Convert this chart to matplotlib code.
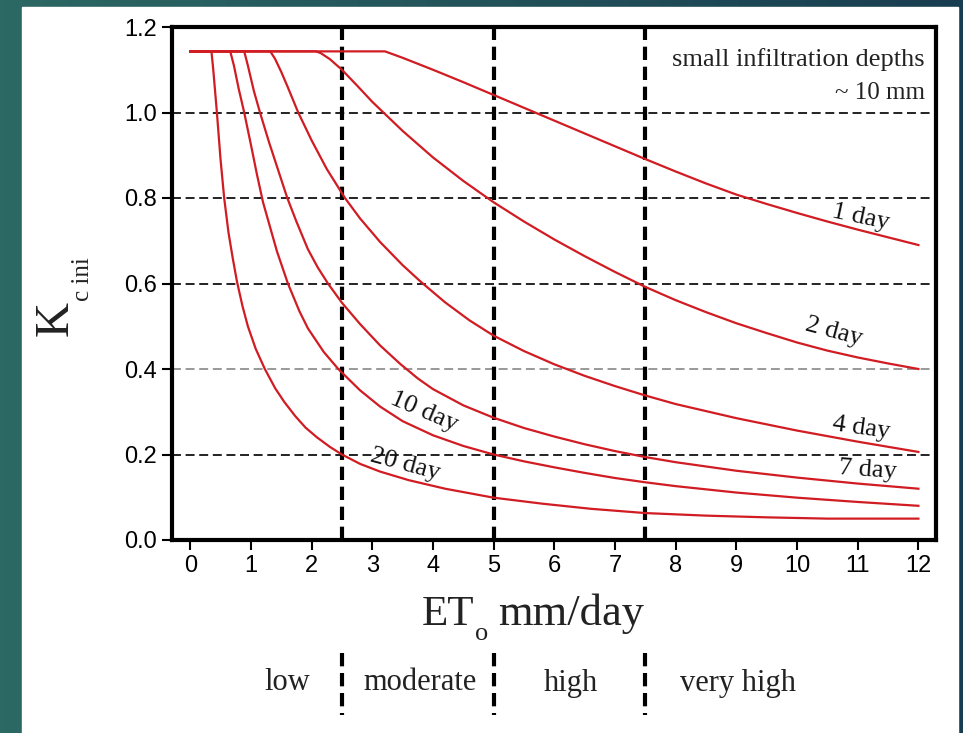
import matplotlib
matplotlib.use("Agg")
from matplotlib import pyplot as plt
from matplotlib import transforms
from matplotlib.patches import Rectangle
import numpy as np

W, H = 963, 733

# Kc ini curves (ETo mm/day -> Kc ini)
day1_x = [0, 3.21, 3.5, 4.0, 4.5, 5.0, 5.5, 6.0, 6.5, 7.0, 7.5, 8.0, 8.5, 9.0, 9.5, 10.0, 10.5, 11.0, 11.5, 12.0]
day1_y = [1.143, 1.143, 1.128, 1.100, 1.071, 1.041, 1.011, 0.981, 0.951, 0.921, 0.891, 0.862, 0.834, 0.808,
          0.786, 0.765, 0.745, 0.726, 0.708, 0.690]

day2_x = [0, 2.07, 2.15, 2.3, 2.5, 2.75, 3.0, 3.5, 4.0, 4.5, 5.0, 5.5, 6.0, 6.5, 7.0, 7.5, 8.0, 8.5, 9.0,
          9.5, 10.0, 10.5, 11.0, 11.5, 12.0]
day2_y = [1.143, 1.143, 1.139, 1.125, 1.100, 1.063, 1.025, 0.957, 0.895, 0.840, 0.790, 0.745, 0.703, 0.664,
          0.627, 0.592, 0.561, 0.533, 0.507, 0.484, 0.462, 0.443, 0.427, 0.413, 0.400]

day4_x = [0, 1.32, 1.4, 1.5, 1.6, 1.78, 2.0, 2.25, 2.55, 2.8, 3.13, 3.5, 3.8, 4.2, 4.6, 5.0, 5.5, 6.0, 6.5,
          7.0, 7.5, 8.0, 9.0, 10.0, 11.0, 12.0]
day4_y = [1.143, 1.143, 1.125, 1.095, 1.062, 1.000, 0.935, 0.868, 0.800, 0.752, 0.697, 0.643, 0.604, 0.556,
          0.514, 0.478, 0.442, 0.411, 0.384, 0.360, 0.338, 0.318, 0.285, 0.256, 0.230, 0.206]

day7_x = [0, 0.89, 0.95, 1.05, 1.15, 1.3, 1.45, 1.6, 1.75, 1.94, 2.1, 2.27, 2.5, 2.8, 3.13, 3.46, 3.75, 4.0,
          4.5, 5.0, 5.5, 6.0, 6.5, 7.0, 7.5, 8.0, 9.0, 10.0, 11.0, 12.0]
day7_y = [1.143, 1.143, 1.110, 1.050, 1.000, 0.930, 0.865, 0.800, 0.745, 0.680, 0.638, 0.600, 0.555, 0.505,
          0.455, 0.412, 0.378, 0.353, 0.315, 0.286, 0.262, 0.242, 0.224, 0.208, 0.194, 0.182, 0.162, 0.146,
          0.132, 0.120]

day10_x = [0, 0.66, 0.72, 0.8, 0.89, 1.0, 1.1, 1.2, 1.3, 1.43, 1.61, 1.8, 1.94, 2.2, 2.44, 2.8, 3.13, 3.5,
           4.0, 4.5, 5.0, 5.5, 6.0, 6.5, 7.0, 7.5, 8.0, 9.0, 10.0, 11.0, 12.0]
day10_y = [1.143, 1.143, 1.110, 1.055, 1.000, 0.925, 0.855, 0.790, 0.740, 0.675, 0.600, 0.535, 0.495, 0.440,
           0.400, 0.350, 0.312, 0.278, 0.245, 0.220, 0.200, 0.184, 0.170, 0.157, 0.145, 0.135, 0.126, 0.111,
           0.099, 0.089, 0.080]

day20_x = [0, 0.35, 0.38, 0.44, 0.50, 0.56, 0.63, 0.70, 0.77, 0.86, 0.95, 1.08, 1.23, 1.4, 1.55, 1.73, 1.9,
           2.09, 2.3, 2.5, 2.8, 3.13, 3.6, 4.2, 5.0, 5.8, 6.6, 7.5, 8.5, 9.5, 10.5, 12.0]
day20_y = [1.143, 1.143, 1.100, 1.000, 0.890, 0.800, 0.720, 0.660, 0.605, 0.548, 0.500, 0.447, 0.400, 0.355,
           0.323, 0.290, 0.263, 0.240, 0.218, 0.200, 0.178, 0.160, 0.140, 0.120, 0.099, 0.085, 0.073, 0.063,
           0.057, 0.053, 0.050, 0.050]

curve_labels = ["1 day", "2 day", "4 day", "7 day", "10 day", "20 day"]
label_x = [11.05, 10.6, 11.05, 11.17, 3.86, 3.54]
label_y = [0.755, 0.486, 0.261, 0.163, 0.30, 0.177]
label_rot = [-12, -15, -8, -4, -23, -15]

classes = ["low", "moderate", "high", "very high"]
class_x = [1.6, 3.79, 6.27, 9.02]
class_edges = [2.5, 5, 7.5]

x_ticks = list(range(0, 13))
y_ticks = [0.0, 0.2, 0.4, 0.6, 0.8, 1.0, 1.2]

red = "#d01c22"
serif = "Liberation Serif"


def px(x, y):
    return x / W, 1 - y / H


fig = plt.figure(figsize=(W / 100, H / 100), dpi=100)

# slide background + white card
bg = fig.add_axes([0, 0, 1, 1])
grad = np.linspace(0, 1, 256)[None, :, None]
c0 = np.array([44, 104, 100]) / 255
c1 = np.array([25, 61, 80]) / 255
bg.imshow(c0 + (c1 - c0) * grad, aspect="auto", extent=[0, 1, 0, 1])
bg.add_patch(Rectangle((22 / W, 0), (958 - 22) / W, (H - 7) / H, color="white", transform=bg.transAxes))
bg.set_xlim(0, 1)
bg.set_ylim(0, 1)
bg.axis("off")

l, t = px(172, 27)
r, b = px(936, 540)
ax = fig.add_axes([l, b, r - l, t - b])
ax.set_facecolor("white")

for xs, ys in [(day1_x, day1_y), (day2_x, day2_y), (day4_x, day4_y),
               (day7_x, day7_y), (day10_x, day10_y), (day20_x, day20_y)]:
    ax.plot(xs, ys, color=red, lw=1.6, zorder=3, solid_joinstyle="round")

# horizontal dashed guides
for yv in [0.2, 0.4, 0.6, 0.8, 1.0]:
    col = "#999999" if yv == 0.4 else "#222222"
    ax.axhline(yv, color=col, lw=1.4, linestyle=(0, (4.6, 2.4)), zorder=1)

# class boundaries
for xv in class_edges:
    ax.axvline(xv, color="black", lw=3, linestyle=(0, (3.2, 1.6)), zorder=2)

ax.set_xlim(-0.3, 12.29)
ax.set_ylim(0, 1.2)
ax.set_xticks(x_ticks)
ax.set_yticks(y_ticks)
ax.set_yticklabels([f"{v:.1f}" for v in y_ticks])
ax.tick_params(direction="out", length=7, width=1.5, labelsize=17, pad=4)
for lab in ax.get_xticklabels() + ax.get_yticklabels():
    lab.set_fontfamily("Liberation Sans")
for s in ax.spines.values():
    s.set_linewidth(3)

for txt, xv, yv, rot in zip(curve_labels, label_x, label_y, label_rot):
    ax.text(xv, yv, txt, rotation=rot, rotation_mode="anchor", ha="center", va="center",
            fontsize=19, family=serif, color="#111111", zorder=4)

ax.text(*px(925, 66), "small infiltration depths", transform=fig.transFigure,
        ha="right", va="baseline", fontsize=19, family=serif, color="#222222")
ax.text(*px(925, 99), "~ 10 mm", transform=fig.transFigure,
        ha="right", va="baseline", fontsize=18, family=serif, color="#222222")

# axis titles
fig.text(*px(422, 625), "ET", ha="left", va="baseline", fontsize=31, family=serif, color="#222222")
fig.text(*px(475, 640), "o", ha="left", va="baseline", fontsize=19, family=serif, color="#222222")
fig.text(*px(498, 625), "mm/day", ha="left", va="baseline", fontsize=32, family=serif, color="#222222")
fig.text(*px(56, 319), "K", rotation=90, ha="center", va="center", fontsize=35, family=serif, color="#222222")
fig.text(*px(83, 279), "c ini", rotation=90, ha="center", va="center", fontsize=18, family=serif, color="#222222")

# class strip under the axis
tr = transforms.blended_transform_factory(ax.transData, fig.transFigure)
for xv in class_edges:
    ax.plot([xv, xv], [1 - 653 / H, 1 - 715 / H], transform=tr, clip_on=False,
            color="black", lw=3, linestyle=(0, (3.2, 1.6)))
for name, xv in zip(classes, class_x):
    ax.text(xv, 1 - 683 / H, name, transform=tr, ha="center", va="center",
            fontsize=22, family=serif, color="#222222")

plt.savefig("out.png", dpi=100)
